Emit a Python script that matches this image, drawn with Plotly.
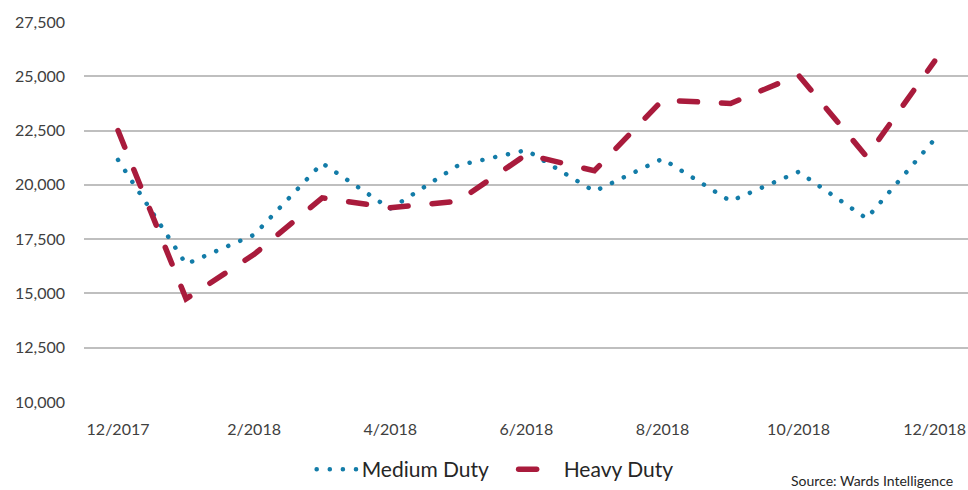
import plotly.graph_objects as go

months = ["12/2017", "1/2018", "2/2018", "3/2018", "4/2018", "5/2018", "6/2018",
          "7/2018", "8/2018", "9/2018", "10/2018", "11/2018", "12/2018"]
medium_duty = [21150, 16350, 17700, 21000, 18900, 20900, 21600,
               19700, 21200, 19250, 20600, 18450, 22100]
heavy_duty = [22500, 14750, 16800, 19400, 18950, 19250, 21400,
              20650, 23900, 23750, 25050, 21300, 25700]
y_ticks = [10000, 12500, 15000, 17500, 20000, 22500, 25000, 27500]
x_tick_idx = [0, 2, 4, 6, 8, 10, 12]

xs = list(range(len(months)))
FONT = "Lato, 'Open Sans', sans-serif"

fig = go.Figure()
fig.add_trace(go.Scatter(
    x=xs, y=medium_duty, name="Medium Duty", mode="lines",
    line=dict(color="#137CA8", width=4.5, dash="0.1px,13px"),
))
fig.add_trace(go.Scatter(
    x=xs, y=heavy_duty, name="Heavy Duty", mode="lines",
    line=dict(color="#A91B3C", width=5.5, dash="18px,24px"),
))

fig.update_layout(
    width=968, height=490,
    margin=dict(l=84, r=0, t=22, b=86),
    paper_bgcolor="white", plot_bgcolor="white",
    font=dict(family=FONT, color="#404040"),
    showlegend=True,
    legend=dict(orientation="h", x=0.2575, xanchor="left", y=-0.125, yanchor="top",
                font=dict(size=21, color="#262626"), itemwidth=40,
                entrywidth=147, entrywidthmode="pixels",
                traceorder="normal"),
    xaxis=dict(
        range=[-0.5, 12.49], tickmode="array", tickvals=x_tick_idx,
        ticktext=[months[i] for i in x_tick_idx], showgrid=False, zeroline=False,
        showline=False, ticks="", ticklabelstandoff=16,
        tickfont=dict(size=16, color="#404040"),
    ),
    yaxis=dict(
        range=[10000, 27500], tickmode="array", tickvals=y_ticks,
        tickformat=",d", showgrid=True, gridcolor="#BFBFBF", gridwidth=1.5,
        zeroline=False, showline=False, ticks="", ticklabelstandoff=18,
        tickfont=dict(size=16, color="#404040"),
    ),
    annotations=[dict(
        text="Source: Wards Intelligence", xref="paper", yref="paper",
        x=0.985, xanchor="right", y=-0.207, yanchor="middle", showarrow=False,
        font=dict(size=14, color="#262626"),
    )],
)

post = ("document.body.style.margin='0';"
        "var s=document.createElement('style');"
        "s.innerHTML='body{margin:0;} .js-line{stroke-linecap:round;} .legendlines path{stroke-linecap:round;}';"
        "document.head.appendChild(s);")
fig.write_html("out.html", post_script=post, config={"displayModeBar": False})
